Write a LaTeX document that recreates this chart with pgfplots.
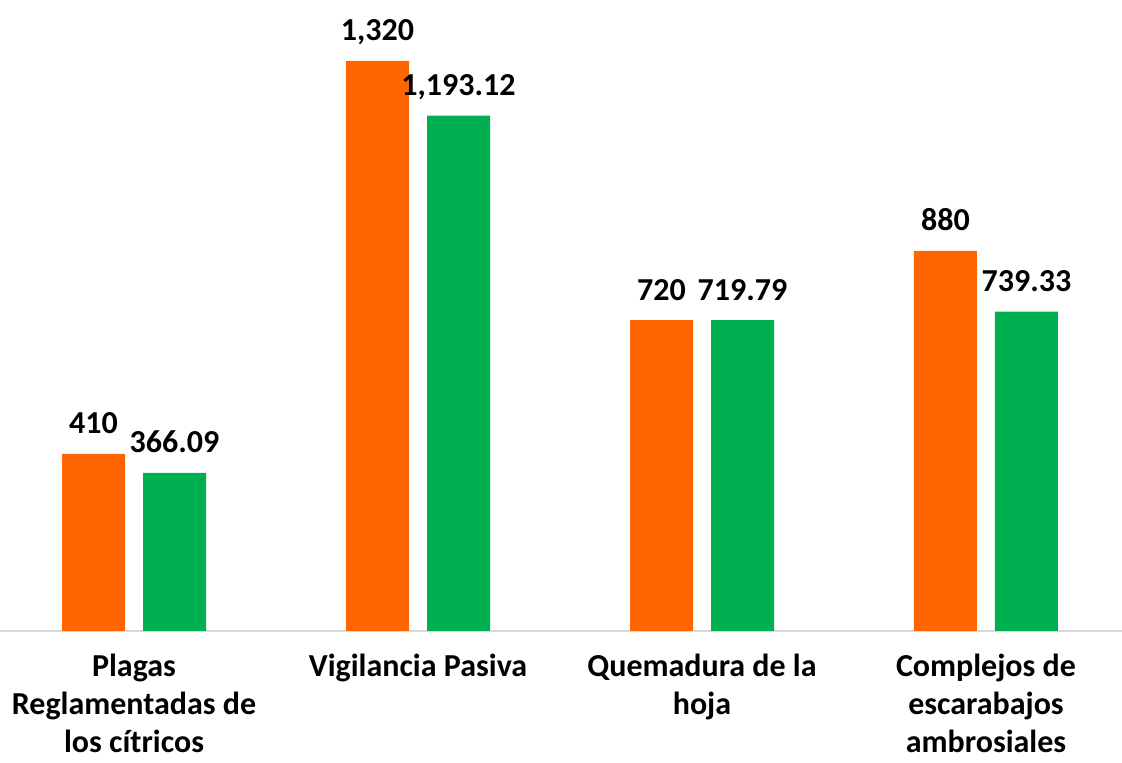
\documentclass[border=0pt]{standalone}
\usepackage{fontspec}
\setmainfont{Carlito}
\usepackage{pgfplots}
\pgfplotsset{compat=1.18}
\definecolor{barorange}{HTML}{FF6600}
\definecolor{bargreen}{HTML}{00B050}
\definecolor{axgray}{HTML}{D9D9D9}
\begin{document}
\begin{tikzpicture}
\begin{axis}[
  scale only axis,
  width=561pt, height=315.5pt,
  xmin=-0.472, xmax=3.479,
  ymin=0, ymax=1461,
  axis x line=bottom,
  axis y line=none,
  x axis line style={-, draw=axgray, line width=0.75pt},
  xtick={0,1,2,3},
  xticklabels={{Plagas\\Reglamentadas de\\los cítricos},{Vigilancia Pasiva},{Quemadura de la\\hoja},{Complejos de\\escarabajos\\ambrosiales}},
  xticklabel style={align=center, font=\bfseries\fontsize{16}{19}\selectfont, anchor=north, yshift=-10.5pt, inner sep=1pt},
  major tick length=0pt,
  ybar,
  bar width=31.5pt,
  clip=false,
  point meta=explicit symbolic,
  nodes near coords={\pgfplotspointmeta},
  nodes near coords style={anchor=base, yshift=10pt, font=\bfseries\fontsize{16}{19}\selectfont, text=black},
]
\addplot[fill=barorange, draw=none, bar shift=-20.25pt] coordinates {
  (0,410) [410]
  (1,1320) [{1,320}]
  (2,720) [720]
  (3,880) [880]
};
\addplot[fill=bargreen, draw=none, bar shift=20.25pt] coordinates {
  (0,366.09) [366.09]
  (1,1193.12) [{1,193.12}]
  (2,719.79) [719.79]
  (3,739.33) [739.33]
};
\end{axis}
\pgfresetboundingbox
\path (current axis.south west) ++(0,-66pt) rectangle (current axis.north east);
\end{tikzpicture}
\end{document}
